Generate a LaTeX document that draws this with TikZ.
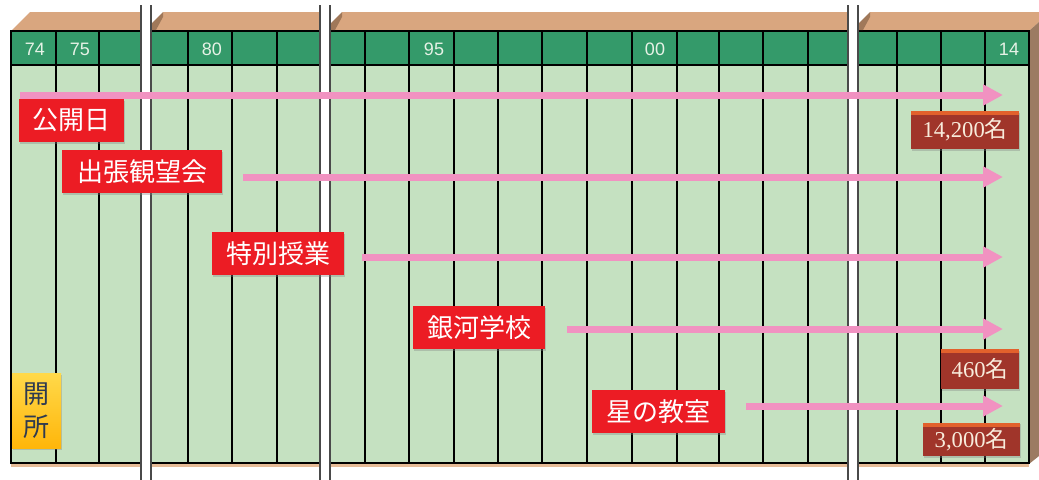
\documentclass[tikz,border=0pt]{standalone}
\usepackage{fontspec}
\setmainfont{Liberation Serif}
\newfontfamily\cjk{Noto Sans CJK JP}
\newfontfamily\hdr{Liberation Sans}
\usetikzlibrary{arrows.meta,shadows}
\definecolor{topbrown}{HTML}{D9A67F}
\definecolor{sidebrown}{HTML}{9C7B62}
\definecolor{shadebrown}{HTML}{7A5A40}
\definecolor{tanline}{HTML}{E6BC98}
\definecolor{headgreen}{HTML}{349A6A}
\definecolor{bodygreen}{HTML}{C5E1C1}
\definecolor{arrowpink}{HTML}{F192C1}
\definecolor{labelred}{HTML}{EC1C24}
\definecolor{countred}{HTML}{A0352A}
\definecolor{countorange}{HTML}{E2612C}
\definecolor{cream}{HTML}{F8ECDC}
\definecolor{yeltop}{HTML}{FFD94A}
\definecolor{yelbot}{HTML}{FFB60A}
\definecolor{opentext}{HTML}{2E3A50}
\definecolor{yeartext}{HTML}{E6F2E6}
\definecolor{breakedge}{HTML}{4A4A4A}
\begin{document}
\begin{tikzpicture}[x=0.75pt,y=-0.75pt,
  gridline/.style={line width=1.1pt,black},
  yearlbl/.style={text=yeartext,font=\hdr\fontsize{13.5}{13.5}\selectfont,inner sep=0},
  flow/.style={line width=5.25pt,arrowpink,-{Triangle[length=15pt,width=15pt]}},
  evbox/.style={fill=labelred,text=white,inner sep=0,
    font=\cjk\fontsize{19.5}{20}\selectfont,
    drop shadow={shadow xshift=1pt,shadow yshift=-1.2pt,opacity=0.35}},
  countbox/.style={fill=countred,text=cream,inner sep=0,
    font=\fontsize{17}{18}\selectfont,
    drop shadow={shadow xshift=1pt,shadow yshift=-1.2pt,opacity=0.35}},
  openbox/.style={top color=yeltop,bottom color=yelbot,text=opentext,inner sep=0,
    align=center,font=\cjk\fontsize{19.5}{24.5}\selectfont,
    drop shadow={shadow xshift=1pt,shadow yshift=-1.2pt,opacity=0.35}},
  breakedgeline/.style={draw=breakedge,line width=1pt}]
\useasboundingbox (0,0) rectangle (1039,479);
% box faces
\fill[topbrown] (11,31) -- (30,12) -- (1039,12) -- (1039,22) -- (1029,31) -- cycle;
\fill[sidebrown] (1029,31) -- (1039,22) -- (1039,456) -- (1029,464) -- cycle;
\fill[tanline] (11,463) rectangle (1029,467);
\fill[headgreen] (11,31) rectangle (1029,65);
\fill[bodygreen] (11,65) rectangle (1029,463);
\foreach \x in {56,99,188,232,277,365,409,454,498,542,587,632,677,719,763,808,897,941,985}
  \draw[gridline] (\x,31) -- (\x,463);
\draw[gridline] (11,65) -- (1029,65);
\draw[gridline] (11,31) rectangle (1029,463);
% year labels
\node[yearlbl] (y74) at (35,49) {74};
\node[yearlbl] (y75) at (80,49) {75};
\node[yearlbl] (y80) at (212,49) {80};
\node[yearlbl] (y95) at (434,49) {95};
\node[yearlbl] (y00) at (655,49) {00};
\node[yearlbl] (y14) at (1009,49) {14};
% axis breaks
\foreach \xl/\xr in {141/151,320/330,848/858}{
  \fill[white] (\xr,12) -- (\xr+12,12) -- (\xr,24) -- cycle;
  \fill[shadebrown,opacity=0.6] (\xr,24) -- (\xr+12,12) -- (\xr+12,17) -- (\xr+5,30) -- (\xr,30) -- cycle;
  \fill[white] (\xl,5) rectangle (\xr,480);
  \draw[breakedgeline] (\xl,5) -- (\xl,480);
  \draw[breakedgeline] (\xr,5) -- (\xr,480);
}
% arrows
\coordinate (a1s) at (20,95);  \coordinate (a1e) at (1003,95);
\coordinate (a2s) at (243,177); \coordinate (a2e) at (1003,177);
\coordinate (a3s) at (362,257); \coordinate (a3e) at (1003,257);
\coordinate (a4s) at (567,329); \coordinate (a4e) at (1003,329);
\coordinate (a5s) at (746,406); \coordinate (a5e) at (1003,406);
\draw[flow] (a1s) -- (a1e);
\draw[flow] (a2s) -- (a2e);
\draw[flow] (a3s) -- (a3e);
\draw[flow] (a4s) -- (a4e);
\draw[flow] (a5s) -- (a5e);
% event labels
\node[evbox,minimum width=78.75pt,minimum height=32.25pt] (koukai) at (71.5,120.5) {公開日};
\node[evbox,minimum width=120pt,minimum height=32.25pt] (shutchou) at (142,171.5) {出張観望会};
\node[evbox,minimum width=99pt,minimum height=32.25pt] (tokubetsu) at (278,253.5) {特別授業};
\node[evbox,minimum width=99pt,minimum height=32.25pt] (ginga) at (479,327.5) {銀河学校};
\node[evbox,minimum width=99.75pt,minimum height=32.25pt] (hoshi) at (658.5,411.5) {星の教室};
% counts
\node[countbox,minimum width=81pt,minimum height=28.5pt] (c1) at (965,130) {14,200{\cjk 名}};
\node[countbox,minimum width=58.5pt,minimum height=30pt] (c2) at (980,369) {460{\cjk 名}};
\node[countbox,minimum width=72.75pt,minimum height=25pt] (c3) at (971.5,439.5) {3,000{\cjk 名}};
\foreach \c in {c1,c2,c3}
  \fill[countorange] (\c.north west) rectangle ([yshift=-3pt]\c.north east);
% opening
\node[openbox,minimum width=36.75pt,minimum height=56.25pt] (kaisho) at (36.5,410.5) {開\\所};
\end{tikzpicture}
\end{document}
